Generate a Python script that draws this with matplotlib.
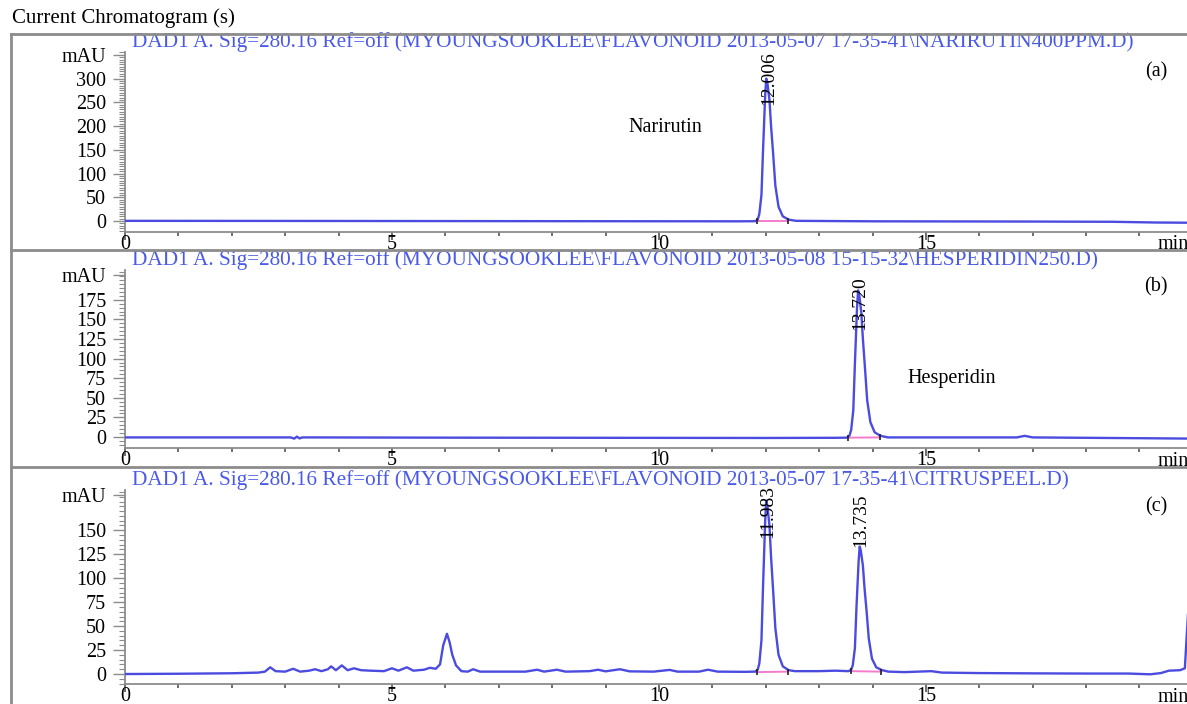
import matplotlib.pyplot as plt
from matplotlib.lines import Line2D
from matplotlib.ticker import MultipleLocator, FixedLocator, FixedFormatter

plt.rcParams['font.family'] = ['Liberation Serif', 'DejaVu Serif']

# ---- data (time in min, signal in mAU) ----
a_time = [0.0, 3.0, 6.0, 9.0, 11.5,
          11.80, 11.85, 11.88, 11.92, 11.95, 11.99, 12.01, 12.03, 12.07, 12.10,
          12.14, 12.18, 12.24, 12.32, 12.43, 12.57,
          14.0, 17.0, 18.5, 19.3, 19.95]
a_signal = [0.5, 0.3, 0.0, -0.3, -0.5,
            -0.3, 3, 15, 55, 150, 265, 300, 292, 255, 200,
            140, 75, 30, 10, 3, 0.5,
            -0.5, -1.0, -1.5, -3.0, -3.5]

b_time = [0.0, 2.0, 3.1, 3.17, 3.22, 3.27, 3.32, 3.5, 6.0, 9.0, 12.0, 13.3,
          13.52, 13.57, 13.60, 13.64, 13.67, 13.71, 13.73, 13.75, 13.79, 13.82,
          13.86, 13.90, 13.96, 14.04, 14.15, 14.29,
          15.0, 16.7, 16.85, 17.0, 18.0, 19.0, 19.95]
b_signal = [-0.5, -0.5, -0.5, -2.0, 0.5, -1.8, -0.5, -0.5, -0.8, -1.0, -1.2, -1.0,
            -0.8, 2, 9, 34, 93, 165, 187, 182, 159, 125,
            87, 47, 19, 6, 1.5, -0.5,
            -0.5, -0.5, 1.5, -0.5, -1.0, -1.5, -2.0]

c_time = [0.0, 1.0, 2.0, 2.5, 2.62, 2.72, 2.82, 3.0, 3.15, 3.28, 3.45, 3.56, 3.68,
          3.8, 3.86, 3.95, 4.06, 4.17, 4.29, 4.42, 4.6, 4.85, 5.0, 5.12, 5.28, 5.4,
          5.6, 5.71, 5.82, 5.9, 5.96, 6.03, 6.08, 6.13, 6.2, 6.3, 6.42, 6.52, 6.65,
          7.0, 7.5, 7.72, 7.85, 8.09, 8.25, 8.7, 8.86, 9.0, 9.27, 9.45, 9.9, 10.2,
          10.35, 10.75, 10.92, 11.1, 11.6,
          11.80, 11.85, 11.88, 11.92, 11.95, 11.99, 12.01, 12.03, 12.07, 12.10,
          12.14, 12.18, 12.24, 12.32, 12.43, 12.55,
          13.0, 13.3,
          13.55, 13.60, 13.63, 13.67, 13.70, 13.74, 13.76, 13.78, 13.82, 13.85,
          13.89, 13.93, 13.99, 14.07, 14.18, 14.3,
          14.6, 15.1, 15.3, 16.0, 17.0, 18.0, 18.8, 19.2, 19.4, 19.55, 19.76,
          19.85, 19.89, 19.95]
c_signal = [0.0, 0.3, 0.8, 1.5, 2.5, 7, 3, 2.5, 5.5, 2.5, 3.5, 5, 3,
            5, 8, 4, 9, 4, 6, 4, 3.5, 3, 6, 3.5, 7, 3.5,
            4.5, 6.5, 5.5, 10, 30, 42, 33, 20, 9, 3, 2.5, 5, 2.5,
            2.5, 2.5, 4.5, 2.5, 4.5, 2.5, 3, 4.5, 2.8, 5, 2.8, 2.5, 4.3,
            2.5, 2.5, 4.5, 2.5, 2.3,
            2.5, 4.5, 11, 35, 92, 160, 181, 176, 155, 122,
            86, 48, 20, 8, 4, 3,
            3, 3.5,
            3, 4.5, 9, 27, 70, 118, 133, 129, 113, 90,
            65, 37, 16, 7, 4, 2.5,
            2, 3, 1.5, 1.0, 0.7, 0.5, 0.5, -0.3, 1.0, 3.5, 4,
            6, 45, 100]

# integration baselines (start, end) for each labelled peak
a_base_t = [[11.83, 12.41]]
a_base_y = [[0.0, 0.0]]
b_base_t = [[13.54, 14.14]]
b_base_y = [[-0.8, -0.5]]
c_base_t = [[11.83, 12.41], [13.60, 14.16]]
c_base_y = [[2.0, 2.5], [3.0, 2.5]]

# retention time labels
a_rt = ['12.006']
b_rt = ['13.720']
c_rt = ['11.983', '13.735']

headers = [
    r'DAD1 A. Sig=280.16 Ref=off (MYOUNGSOOKLEE\FLAVONOID 2013-05-07 17-35-41\NARIRUTIN400PPM.D)',
    r'DAD1 A. Sig=280.16 Ref=off (MYOUNGSOOKLEE\FLAVONOID 2013-05-08 15-15-32\HESPERIDIN250.D)',
    r'DAD1 A. Sig=280.16 Ref=off (MYOUNGSOOKLEE\FLAVONOID 2013-05-07 17-35-41\CITRUSPEEL.D)',
]
letters = ['(a)', '(b)', '(c)']

W, H = 1187, 704
BLUE = '#4a5ae8'
TRACE = '#4b4be0'
PINK = '#f47ccc'
GREY = '#8c8c8c'


def fx(px):
    return px / W


def fy(py):
    return 1 - py / H


fig = plt.figure(figsize=(W / 100, H / 100), dpi=100)

# axes rectangles in pixels: (top, bottom)
rects = [(52, 232), (270, 448), (490, 684)]
ylims = [(-23, 356), (-14, 213), (-10.4, 192)]
yticks = [[0, 50, 100, 150, 200, 250, 300, 350],
          [0, 25, 50, 75, 100, 125, 150, 175, 206],
          [0, 25, 50, 75, 100, 125, 150, 187]]

axes = []
for i, (top, bot) in enumerate(rects):
    ax = fig.add_axes([fx(125), fy(bot), 1 - fx(125), (bot - top) / H])
    ax.set_xlim(0, 19.89)
    ax.set_ylim(*ylims[i])
    for s in ['top', 'right']:
        ax.spines[s].set_visible(False)
    for s in ['left', 'bottom']:
        ax.spines[s].set_color(GREY)
        ax.spines[s].set_linewidth(1.3)
    ax.xaxis.set_major_locator(MultipleLocator(5))
    ax.xaxis.set_minor_locator(MultipleLocator(1))
    labs = [str(v) for v in yticks[i][:-1]] + ['mAU']
    ax.yaxis.set_major_locator(FixedLocator(yticks[i]))
    ax.yaxis.set_major_formatter(FixedFormatter(labs))
    ax.yaxis.set_minor_locator(MultipleLocator(5))
    ax.tick_params(axis='y', which='major', length=8.5, width=1.0, color=GREY,
                   pad=5, labelsize=14.5)
    ax.tick_params(axis='y', which='minor', length=4, width=0.8, color=GREY)
    ax.tick_params(axis='x', which='major', length=6, width=1.2, color='#555555',
                   pad=-3.5, labelsize=14.5)
    ax.tick_params(axis='x', which='minor', length=3, width=1.2, color='#555555')
    ax.patch.set_alpha(0)
    axes.append(ax)

ax_a, ax_b, ax_c = axes

# traces
ax_a.plot(a_time, a_signal, color=TRACE, lw=1.7, zorder=3)
ax_b.plot(b_time, b_signal, color=TRACE, lw=1.7, zorder=3)
ax_c.plot(c_time, c_signal, color=TRACE, lw=1.7, zorder=3)

for ax, bt, by in [(ax_a, a_base_t, a_base_y), (ax_b, b_base_t, b_base_y),
                   (ax_c, c_base_t, c_base_y)]:
    for t, y in zip(bt, by):
        ax.plot(t, y, color=PINK, lw=1.4, zorder=2)
        ax.plot(t, y, ls='none', marker='|', ms=5, mew=1.2, color='#222222', zorder=4)

# retention time labels
ax_a.text(12.06, 245, a_rt[0], rotation=90, ha='center', va='bottom', fontsize=14)
ax_b.text(13.76, 136, b_rt[0], rotation=90, ha='center', va='bottom', fontsize=14)
ax_c.text(12.04, 142, c_rt[0], rotation=90, ha='center', va='bottom', fontsize=14)
ax_c.text(13.77, 133, c_rt[1], rotation=90, ha='center', va='bottom', fontsize=14)

# compound names
ax_a.text(9.42, 196, 'Narirutin', ha='left', va='center', fontsize=14.5)
ax_b.text(14.66, 75, 'Hesperidin', ha='left', va='center', fontsize=14.5)

# headers, letters and unit labels
header_y = [42, 260, 480]
letter_y = [72, 287, 507]
min_y = [244, 461, 698]
for i in range(3):
    fig.text(fx(132), fy(header_y[i]), headers[i], color=BLUE, fontsize=15.3,
             ha='left', va='center')
    fig.text(fx(1156), fy(letter_y[i]), letters[i], fontsize=14.5,
             ha='center', va='center')
    fig.text(fx(1158), fy(min_y[i]), 'min', fontsize=14.5, ha='left', va='center')

fig.text(fx(12), fy(18), 'Current Chromatogram (s)', fontsize=15,
         ha='left', va='center')

# outer frame and panel dividers
for y in [34, 250, 467]:
    fig.add_artist(Line2D([fx(11), 1], [fy(y), fy(y)], color=GREY, lw=2, zorder=10))
fig.add_artist(Line2D([fx(11), fx(11)], [fy(34), 0], color=GREY, lw=2, zorder=10))

fig.savefig('out.png', dpi=100)
